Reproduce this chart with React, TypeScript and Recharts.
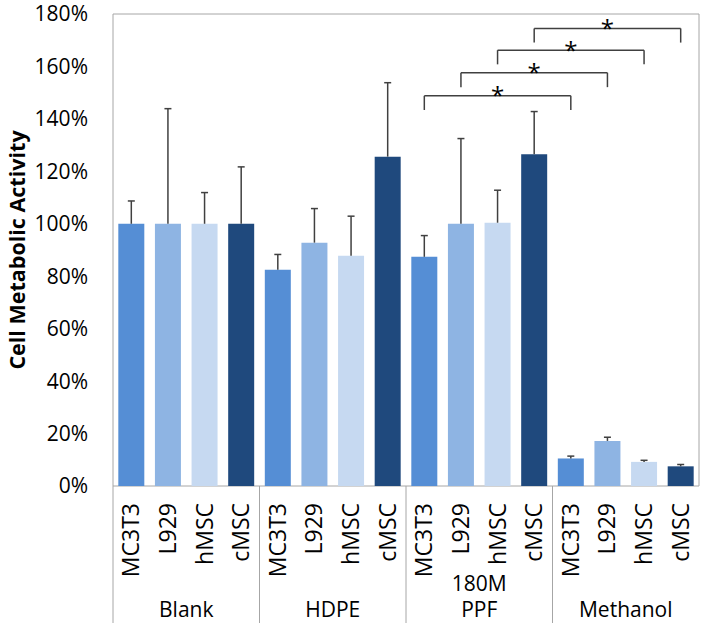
import {
  BarChart,
  Bar,
  Cell,
  XAxis,
  YAxis,
  ReferenceLine,
  ReferenceArea,
} from 'recharts';

const groups = ['Blank', 'HDPE', '180M PPF', 'Methanol'];
const cellLines = ['MC3T3', 'L929', 'hMSC', 'cMSC'];
const cellColors = ['#558ed5', '#8eb4e3', '#c6d9f1', '#1f497d'];

// mean (%) and upper error (%) per group, in cellLines order
const blankMean = [100, 100, 100, 100];
const blankErr = [8.7, 43.9, 11.9, 21.7];
const hdpeMean = [82.5, 92.8, 87.8, 125.6];
const hdpeErr = [5.8, 13.0, 15.1, 28.2];
const ppfMean = [87.4, 100, 100.4, 126.5];
const ppfErr = [8.1, 32.5, 12.4, 16.3];
const methanolMean = [10.5, 17.2, 9.2, 7.5];
const methanolErr = [0.9, 1.4, 0.6, 0.7];

const yTicks = [0, 20, 40, 60, 80, 100, 120, 140, 160, 180];

// significance brackets: from / to bar index, bar height and leg foot (%)
const bracketFrom = [8, 9, 10, 11];
const bracketTo = [12, 13, 14, 15];
const bracketLevel = [148.8, 157.6, 166.2, 174.5];
const bracketFoot = [143.4, 152.1, 160.8, 169.1];

const means = [blankMean, hdpeMean, ppfMean, methanolMean];
const errs = [blankErr, hdpeErr, ppfErr, methanolErr];

const rows = groups.flatMap((g, gi) =>
  cellLines.map((c, ci) => ({
    key: `${g}|${c}`,
    group: g,
    cell: c,
    ci,
    mean: means[gi][ci],
    err: errs[gi][ci],
  }))
);

const FONT = '"Open Sans", sans-serif';

function Whisker(props: any) {
  const { x, y, width, height } = props;
  if (x == null || y == null) return null;
  const cx = x + width / 2;
  return (
    <g stroke="#404040" strokeWidth={1.5}>
      <line x1={cx} x2={cx} y1={y + height} y2={y} />
      <line x1={cx - 3.5} x2={cx + 3.5} y1={y} y2={y} />
    </g>
  );
}

function CategoryTick(props: any) {
  const { x, y, payload, index } = props;
  const row = rows[index];
  const half = payload.offset || 18.3;
  const first = index % 4 === 0;
  const groupLines = row.group.split(' ');
  return (
    <g>
      <text
        transform={`translate(${x + 8},${y + 17}) rotate(-90)`}
        textAnchor="end"
        fontSize={23}
        fontFamily={FONT}
        fill="#000"
      >
        {row.cell}
      </text>
      {first && (
        <line x1={x - half} x2={x - half} y1={y} y2={y + 137} stroke="#a6a6a6" />
      )}
      {first &&
        groupLines.map((t: string, i: number) => (
          <text
            key={t}
            x={x + 3 * half}
            y={y + 131 - (groupLines.length - 1 - i) * 26}
            textAnchor="middle"
            fontSize={21}
            fontFamily={FONT}
            fill="#000"
          >
            {t}
          </text>
        ))}
    </g>
  );
}

function YTitle(props: any) {
  const { viewBox } = props;
  const cy = viewBox.y + viewBox.height / 2;
  return (
    <text
      transform={`translate(25,${cy}) rotate(-90)`}
      textAnchor="middle"
      fontSize={21.5}
      fontWeight="bold"
      fontFamily={FONT}
      fill="#000"
    >
      Cell Metabolic Activity
    </text>
  );
}

export default function App() {
  return (
    <div style={{ position: 'absolute', left: 0, top: 0, background: '#fff' }}>
      <BarChart
        width={704}
        height={629}
        data={rows}
        margin={{ top: 14, right: 5, left: 0, bottom: 0 }}
        barCategoryGap="14.5%"
      >
        <XAxis
          dataKey="key"
          type="category"
          height={143}
          interval={0}
          tickLine={false}
          tickSize={0}
          tickMargin={0}
          axisLine={false}
          tick={<CategoryTick />}
        />
        <YAxis
          type="number"
          domain={[0, 180]}
          ticks={yTicks}
          width={113}
          tickLine={false}
          axisLine={false}
          tickMargin={19}
          tickFormatter={(v) => `${v}%`}
          tick={{ fill: '#000', fontSize: 21, fontFamily: FONT }}
          label={{ content: <YTitle /> }}
        />
        <Bar dataKey="mean" stackId="s" isAnimationActive={false}>
          {rows.map((r) => (
            <Cell key={r.key} fill={cellColors[r.ci]} />
          ))}
        </Bar>
        <Bar dataKey="err" stackId="s" isAnimationActive={false} shape={<Whisker />} />
        <ReferenceArea y1={0} y2={180} fill="none" stroke="#a6a6a6" strokeWidth={1} />
        {bracketFrom.map((from, i) => {
          const a = rows[from].key;
          const b = rows[bracketTo[i]].key;
          return [
            <ReferenceLine
              key={`l${i}`}
              segment={[{ x: a, y: bracketFoot[i] }, { x: a, y: bracketLevel[i] }]}
              stroke="#404040"
              strokeWidth={1.5}
            />,
            <ReferenceLine
              key={`h${i}`}
              segment={[{ x: a, y: bracketLevel[i] }, { x: b, y: bracketLevel[i] }]}
              stroke="#404040"
              strokeWidth={1.5}
              label={{
                value: '*',
                position: 'center',
                fontSize: 24,
                fontFamily: FONT,
                fill: '#000',
              }}
            />,
            <ReferenceLine
              key={`r${i}`}
              segment={[{ x: b, y: bracketLevel[i] }, { x: b, y: bracketFoot[i] }]}
              stroke="#404040"
              strokeWidth={1.5}
            />,
          ];
        })}
      </BarChart>
    </div>
  );
}
